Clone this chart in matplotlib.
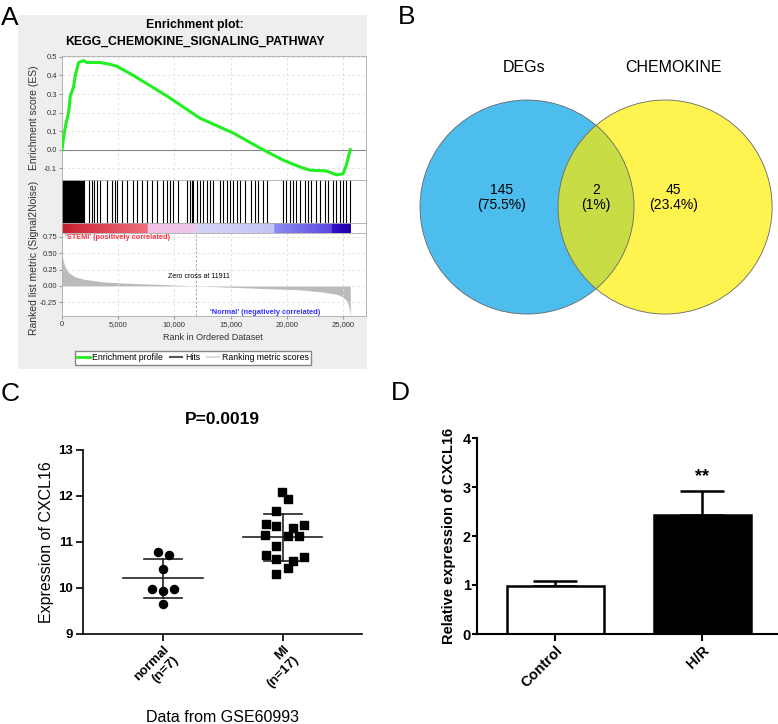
import numpy as np
import matplotlib
matplotlib.use("Agg")
import matplotlib.pyplot as plt
from matplotlib.patches import Rectangle, Circle
from matplotlib.colors import LinearSegmentedColormap
from matplotlib.lines import Line2D

plt.rcParams["font.family"] = ["Liberation Sans", "DejaVu Sans"]

# ---- A: GSEA enrichment plot
es_rank = [0, 150, 355, 590, 740, 1035, 1180, 1480, 1920, 2220, 3400, 4290, 4880,
           6360, 9320, 12280, 15240, 17900, 19680, 21150, 22040, 23520, 24410,
           25000, 25300, 25650]
es_score = [0.0, 0.07, 0.14, 0.20, 0.29, 0.34, 0.40, 0.47, 0.48, 0.47, 0.47, 0.46,
            0.45, 0.40, 0.29, 0.17, 0.09, 0.0, -0.056, -0.092, -0.11, -0.114,
            -0.135, -0.13, -0.083, 0.0]
hit_rank = [40, 120, 200, 260, 330, 420, 500, 560, 640, 700, 780, 860, 930, 1000,
            1080, 1150, 1230, 1300, 1380, 1450, 1530, 1600, 1680, 1760, 1850, 1930,
            2370, 2660, 2810, 3110, 3400, 3990, 4440, 4730, 4880, 5330, 5770, 6360,
            6660, 7100, 7540, 7990, 8430, 9020, 9320, 9620, 9910, 10360, 11100,
            11390, 11540, 11690, 11980, 12280, 12570, 12870, 13170, 13460, 14050,
            14350, 14650, 14940, 15240, 15530, 15830, 16270, 16860, 17160, 17460,
            17900, 18200, 19680, 19970, 20270, 20560, 20860, 21150, 21600, 21890,
            22190, 22630, 22930, 23370, 23670, 24110, 24410, 24700, 25000, 25300,
            25590]
metric_rank = [0, 120, 270, 600, 1150, 2000, 3800, 6000, 9100, 11911, 15000,
               18000, 21200, 23000, 24500, 25000, 25300, 25500, 25650]
metric_value = [0.48, 0.38, 0.29, 0.20, 0.14, 0.10, 0.06, 0.04, 0.02, 0.0, -0.02,
                -0.04, -0.06, -0.09, -0.13, -0.17, -0.22, -0.3, -0.46]
n_genes = 25650
zero_cross = 11911
bar_breaks = [0, 7600, 11911, 18900, 24000, 25650]

# ---- B: Venn
venn_sets = ["DEGs", "CHEMOKINE"]
venn_counts = [145, 2, 45]
venn_pct = ["75.5%", "1%", "23.4%"]

# ---- C: CXCL16 in GSE60993
groups_c = ["normal\n(n=7)", "MI\n(n=17)"]
normal_expr = [10.78, 10.72, 10.41, 9.98, 9.93, 9.98, 9.66]
normal_jit = [-0.042, 0.047, 0.0, -0.089, 0.0, 0.092, 0.0]
mi_expr = [12.08, 11.93, 11.68, 11.39, 11.35, 11.31, 11.36, 11.15, 11.12, 11.14,
           10.91, 10.72, 10.63, 10.59, 10.67, 10.43, 10.31]
mi_jit = [-0.008, 0.039, -0.056, -0.142, -0.056, 0.083, 0.178, -0.147, 0.039,
          0.136, -0.056, -0.142, -0.056, 0.083, 0.178, 0.039, -0.056]

# ---- D: relative expression
groups_d = ["Control", "H/R"]
rel_expr = [0.98, 2.42]
rel_err = [0.10, 0.50]

W, H = 778, 724
fig = plt.figure(figsize=(W / 100, H / 100), dpi=100)


def box(l, t, r, b):
    return [l / W, 1 - b / H, (r - l) / W, (b - t) / H]


def fx(x):
    return x / W


def fy(y):
    return 1 - y / H


# panel A background
fig.patches.append(Rectangle((fx(18), fy(369)), (367 - 18) / W, (369 - 15) / H,
                             transform=fig.transFigure, fc="#EEEEEE", ec="none",
                             zorder=-1))
fig.text(fx(195), fy(25), "Enrichment plot:", ha="center", va="center",
         fontsize=8.8, fontweight="bold")
fig.text(fx(195), fy(42), "KEGG_CHEMOKINE_SIGNALING_PATHWAY", ha="center",
         va="center", fontsize=8.8, fontweight="bold")

xmax = 27050
xt = [0, 5000, 10000, 15000, 20000, 25000]
grid_kw = dict(color="#DDDDDD", lw=0.6, ls=(0, (3, 3)))

ax1 = fig.add_axes(box(62, 56, 366, 180))
ax1.plot(es_rank, es_score, color="#22EE22", lw=2.2, zorder=3)
ax1.axhline(0, color="#888888", lw=0.8)
ax1.set_xlim(0, xmax)
ax1.set_ylim(-0.163, 0.505)
ax1.set_yticks([-0.1, 0.0, 0.1, 0.2, 0.3, 0.4, 0.5])
ax1.set_yticklabels(["%.1f" % v for v in [-0.1, 0.0, 0.1, 0.2, 0.3, 0.4, 0.5]])
ax1.set_xticks(xt)
ax1.tick_params(labelbottom=False, labelsize=5.5, length=2, color="#999999",
                labelcolor="#333333", pad=1.5)
ax1.grid(True, **grid_kw)

ax2 = fig.add_axes(box(62, 180, 366, 223))
ax2.vlines(hit_rank, 0, 1, color="black", lw=0.8)
ax2.set_xlim(0, xmax)
ax2.set_ylim(0, 1)
ax2.set_xticks([])
ax2.set_yticks([])

ax3 = fig.add_axes(box(62, 223, 366, 233))
cols = ["#C81E2D", "#F07080", "#F5C0E4", "#F0C6EC", "#D4D4F8", "#C4C4F4",
        "#8C8CF0", "#5A48E0", "#3012C8", "#2200AA"]
pos = [0, bar_breaks[1] - 1, bar_breaks[1], bar_breaks[2] - 1, bar_breaks[2],
       bar_breaks[3] - 1, bar_breaks[3], bar_breaks[4] - 1, bar_breaks[4],
       bar_breaks[5]]
cmap = LinearSegmentedColormap.from_list("gsea", list(zip(np.array(pos) / n_genes, cols)))
grad = np.linspace(0, 1, 1024)[None, :]
ax3.imshow(grad, cmap=cmap, aspect="auto", extent=(0, n_genes, 0, 1))
ax3.set_xlim(0, xmax)
ax3.set_ylim(0, 1)
ax3.set_xticks([])
ax3.set_yticks([])

ax4 = fig.add_axes(box(62, 233, 366, 316))
ax4.fill_between(metric_rank, metric_value, 0, color="#BBBBBB", lw=0)
ax4.axvline(zero_cross, color="#999999", lw=0.6, ls=(0, (3, 2)))
ax4.set_xlim(0, xmax)
ax4.set_ylim(-0.46, 0.81)
ax4.set_yticks([-0.25, 0.0, 0.25, 0.5, 0.75])
ax4.set_yticklabels(["%.2f" % v for v in [-0.25, 0.0, 0.25, 0.5, 0.75]])
ax4.set_xticks(xt)
ax4.set_xticklabels(["{:,}".format(v) for v in xt])
ax4.tick_params(labelsize=5.5, length=2, color="#999999", labelcolor="#333333",
                pad=1.5)
ax4.grid(True, **grid_kw)
ax4.text(300, 0.745, "'STEMI' (positively correlated)", color="#FF3344",
         fontsize=5.3, fontweight="bold", va="center", ha="left")
ax4.text(12190, 0.14, "Zero cross at 11911", fontsize=5, va="center", ha="center")
ax4.text(18060, -0.40, "'Normal' (negatively correlated)", color="#3333FF",
         fontsize=5.3, fontweight="bold", va="center", ha="center")
for a in (ax1, ax2, ax3, ax4):
    for s in a.spines.values():
        s.set_color("#AAAAAA")
        s.set_linewidth(0.6)

fig.text(fx(34), fy(118), "Enrichment score (ES)", rotation=90, ha="center",
         va="center", fontsize=7.5, color="#333333")
fig.text(fx(34), fy(258), "Ranked list metric (Signal2Noise)", rotation=90,
         ha="center", va="center", fontsize=7.5, color="#333333")
fig.text(fx(213), fy(338), "Rank in Ordered Dataset", ha="center", va="center",
         fontsize=6.5, color="#333333")

handles = [Line2D([], [], color="#22EE22", lw=2),
           Line2D([], [], color="#555555", lw=1.5),
           Line2D([], [], color="#DDDDDD", lw=1.5)]
fig.legend(handles, ["Enrichment profile", "Hits", "Ranking metric scores"],
           loc="center", bbox_to_anchor=(fx(193), fy(358)), ncol=3, fontsize=6.3,
           frameon=True, fancybox=False, edgecolor="#888888", framealpha=1,
           handlelength=1.4, columnspacing=0.8, borderpad=0.3,
           handletextpad=0.3)

# ---- B
axb = fig.add_axes(box(400, 40, 778, 370))
axb.set_xlim(-1.832, 1.70)
axb.set_ylim(-1.523, 1.561)
axb.axis("off")
c_off = 0.645
axb.add_patch(Circle((-c_off, 0), 1, fc="#4DBDED", ec="none"))
yel = Circle((c_off, 0), 1, fc="#FFF44F", ec="none")
axb.add_patch(yel)
ov = Circle((-c_off, 0), 1, fc="#C8DC46", ec="none")
axb.add_patch(ov)
ov.set_clip_path(yel)
for cx in (-c_off, c_off):
    axb.add_patch(Circle((cx, 0), 1, fill=False, ec="#666666", lw=0.6))
axb.text(-0.67, 1.30, venn_sets[0], ha="center", va="center", fontsize=11.5)
axb.text(0.72, 1.30, venn_sets[1], ha="center", va="center", fontsize=11.5)
for x, n, p in zip([-0.88, 0.0, 0.72], venn_counts, venn_pct):
    axb.text(x, 0.09, "%d\n(%s)" % (n, p), ha="center", va="center",
             fontsize=10, linespacing=1.1)

# ---- C
axc = fig.add_axes(box(83, 450, 362, 634))
axc.scatter(1 + np.array(normal_jit), normal_expr, marker="o", s=34,
            color="black", zorder=3)
axc.scatter(2 + np.array(mi_jit), mi_expr, marker="s", s=30, color="black",
            zorder=3)
for x, vals in zip([1, 2], [normal_expr, mi_expr]):
    m = np.mean(vals)
    sd = np.std(vals, ddof=1)
    axc.plot([x - 0.33, x + 0.33], [m, m], color="#222222", lw=1.2)
    axc.plot([x - 0.16, x + 0.16], [m + sd, m + sd], color="#222222", lw=1.2)
    axc.plot([x - 0.16, x + 0.16], [m - sd, m - sd], color="#222222", lw=1.2)
    axc.plot([x, x], [m - sd, m + sd], color="#222222", lw=1.2)
axc.set_xlim(0.333, 2.66)
axc.set_ylim(9, 13)
axc.set_yticks([9, 10, 11, 12, 13])
axc.set_xticks([1, 2])
axc.set_xticklabels(groups_c, rotation=45, ha="right", rotation_mode="anchor",
                    fontweight="bold", fontsize=9.5)
for lab in axc.get_yticklabels():
    lab.set_fontweight("bold")
axc.tick_params(labelsize=9.5, direction="out", length=5, width=1.2, pad=2)
for s in ("top", "right"):
    axc.spines[s].set_visible(False)
for s in ("left", "bottom"):
    axc.spines[s].set_linewidth(1.2)
fig.text(fx(222), fy(420), "P=0.0019", ha="center", va="center", fontsize=12.5,
         fontweight="bold")
fig.text(fx(47), fy(542), "Expression of CXCL16", rotation=90, ha="center",
         va="center", fontsize=11.5)
fig.text(fx(222), fy(717), "Data from GSE60993", ha="center", va="center",
         fontsize=11.5)

# ---- D
axd = fig.add_axes(box(477, 438, 777, 634))
axd.bar([1, 2], rel_expr, width=0.66, color=["white", "black"],
        edgecolor="black", lw=1.8, zorder=2)
axd.errorbar([1, 2], rel_expr, yerr=[[0, 0], rel_err], fmt="none",
             ecolor="black", elinewidth=1.8, capsize=16, capthick=1.8, zorder=1)
axd.text(2, rel_expr[1] + rel_err[1] + 0.3, "**", ha="center", va="center",
         fontsize=13, fontweight="bold")
axd.set_xlim(0.469, 2.51)
axd.set_ylim(0, 4)
axd.set_yticks([0, 1, 2, 3, 4])
axd.set_xticks([1, 2])
axd.set_xticklabels(groups_d, rotation=45, ha="right", rotation_mode="anchor",
                    fontweight="bold", fontsize=10.5)
for lab in axd.get_yticklabels():
    lab.set_fontweight("bold")
axd.tick_params(axis="y", labelsize=10.5, direction="out", length=3.5,
                width=1.5, pad=1)
axd.tick_params(axis="x", direction="out", length=5, width=1.5, pad=2)
for s in ("top", "right"):
    axd.spines[s].set_visible(False)
for s in ("left", "bottom"):
    axd.spines[s].set_linewidth(1.5)
fig.text(fx(449), fy(536), "Relative expression of CXCL16", rotation=90,
         ha="center", va="center", fontsize=10.5, fontweight="bold")

# panel letters
for x, y, t in [(1, 25, "A"), (398, 24, "B"), (1, 401, "C"), (391, 400, "D")]:
    fig.text(fx(x), fy(y), t, fontsize=19, va="baseline", ha="left")

fig.savefig("out.png", dpi=100)
